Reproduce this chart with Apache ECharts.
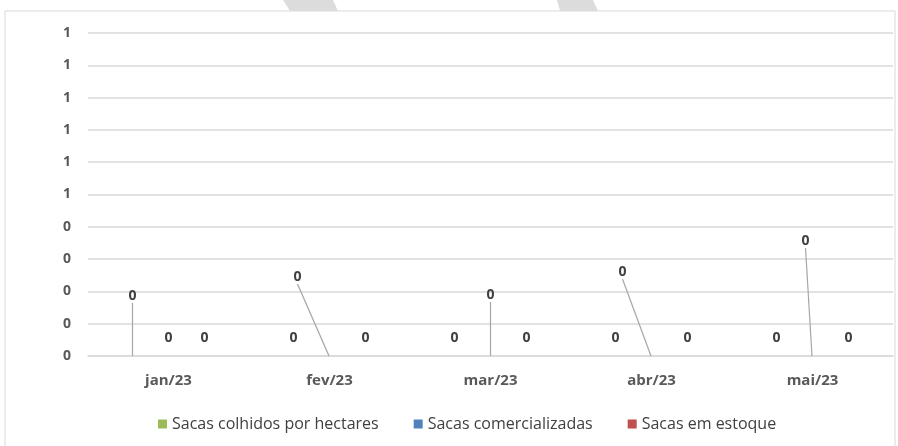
<!DOCTYPE html>
<html>
<head>
<meta charset="utf-8">
<script src="https://cdn.jsdelivr.net/npm/echarts@6/dist/echarts.min.js"></script>
<style>
html,body{margin:0;padding:0;background:#fff;}
#chart{width:898px;height:446px;}
</style>
</head>
<body>
<div id="chart"></div>
<script>
const categories = ['jan/23', 'fev/23', 'mar/23', 'abr/23', 'mai/23'];
const seriesNames = ['Sacas colhidos por hectares', 'Sacas comercializadas', 'Sacas em estoque'];
const colhidos = [0, 0, 0, 0, 0];
const comercializadas = [0, 0, 0, 0, 0];
const estoque = [0, 0, 0, 0, 0];
const yTicks = { min: 0, max: 1, interval: 0.1 };

// label displacement (Excel moved data labels) keyed by "series-index"
const labelShift = {
  '0-0': { dx: 0, dy: -42 },
  '1-1': { dx: -32, dy: -61 },
  '1-2': { dx: 0, dy: -43 },
  '1-3': { dx: -29, dy: -66 },
  '1-4': { dx: -7, dy: -97 }
};

const colors = ['#9bbb59', '#4f81bd', '#c0504d'];
const font = 'Open Sans, Liberation Sans, sans-serif';

function makeSeries(idx, data) {
  return {
    name: seriesNames[idx],
    type: 'bar',
    data: data.map(function (v, i) {
      return { value: v, labelLine: { show: !!labelShift[idx + '-' + i] } };
    }),
    barWidth: 1,
    barGap: '3500%',
    itemStyle: { color: colors[idx] },
    label: {
      show: true,
      position: 'top',
      distance: 11,
      formatter: function (p) { return String(Math.round(p.value)); },
      fontFamily: font,
      fontWeight: 'bold',
      fontSize: 14,
      color: '#404040'
    },
    labelLine: { show: false, lineStyle: { color: '#a6a6a6', width: 1.2 } },
    labelLayout: function (p) {
      const s = labelShift[idx + '-' + p.dataIndex];
      return s ? { dx: s.dx, dy: s.dy } : {};
    }
  };
}

const chart = echarts.init(document.getElementById('chart'));
chart.setOption({
  animation: false,
  color: colors,
  graphic: [
    { type: 'rect', shape: { x: 5, y: 11, width: 890, height: 440 }, style: { fill: 'none', stroke: '#d9d9d9', lineWidth: 1 }, z: -1 },
    { type: 'polygon', shape: { points: [[283, 0], [333, 0], [338, 11], [290, 11]] }, style: { fill: '#dcdcdc' } },
    { type: 'polygon', shape: { points: [[557, 0], [593, 0], [598, 11], [560, 11]] }, style: { fill: '#dcdcdc' } }
  ],
  grid: { left: 88, right: 5, top: 33, bottom: 90 },
  legend: {
    top: 411,
    left: 153,
    itemWidth: 9,
    itemHeight: 9,
    itemGap: 35,
    icon: 'rect',
    textStyle: { fontFamily: font, fontSize: 16, color: '#404040' },
    data: seriesNames
  },
  xAxis: {
    type: 'category',
    data: categories,
    axisLine: { lineStyle: { color: '#d9d9d9', width: 1.5 } },
    axisTick: { show: false },
    axisLabel: { margin: 17, fontFamily: font, fontWeight: 'bold', fontSize: 15, color: '#595959' }
  },
  yAxis: {
    type: 'value',
    min: yTicks.min,
    max: yTicks.max,
    interval: yTicks.interval,
    axisLine: { show: false },
    axisTick: { show: false },
    splitLine: { lineStyle: { color: '#d9d9d9', width: 1.5 } },
    axisLabel: {
      margin: 17,
      fontFamily: font,
      fontWeight: 'bold',
      fontSize: 14,
      color: '#595959',
      formatter: function (v) { return String(Math.round(v + 1e-9)); }
    }
  },
  series: [makeSeries(0, colhidos), makeSeries(1, comercializadas), makeSeries(2, estoque)]
});
</script>
</body>
</html>
